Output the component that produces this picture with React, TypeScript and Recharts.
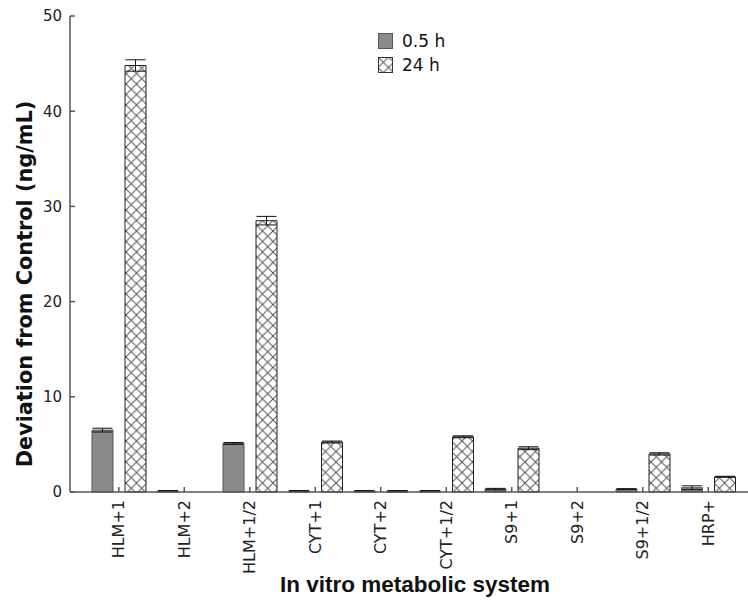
import { BarChart, Bar, XAxis, YAxis, ErrorBar, Legend, Label } from "recharts"

const categories = ["HLM+1", "HLM+2", "HLM+1/2", "CYT+1", "CYT+2", "CYT+1/2", "S9+1", "S9+2", "S9+1/2", "HRP+"]
const halfHour = [6.5, 0.1, 5.1, 0.1, 0.1, 0.1, 0.3, 0, 0.3, 0.45]
const halfHourErr = [0.2, 0.05, 0.1, 0.05, 0.05, 0.05, 0.08, 0, 0.05, 0.2]
const day = [44.8, 0, 28.5, 5.25, 0.1, 5.8, 4.6, 0, 4.0, 1.6]
const dayErr = [0.6, 0, 0.45, 0.1, 0.05, 0.1, 0.15, 0, 0.12, 0.05]
const yTicks = [0, 10, 20, 30, 40, 50]

const data = categories.map((name, i) => ({
  name,
  half: halfHour[i],
  halfErr: halfHour[i] > 0 ? halfHourErr[i] : null,
  day: day[i],
  dayErr: day[i] > 0 ? dayErr[i] : null,
}))

const AXIS = "#555"

const RotatedTick = ({ x, y, payload }: any) => (
  <g transform={`translate(${x},${y})`}>
    <text
      transform="rotate(-90)"
      textAnchor="end"
      dy="0.35em"
      fontFamily="DejaVu Sans"
      fontSize={16}
      fill="#222"
    >
      {payload.value}
    </text>
  </g>
)

const LegendBox = () => (
  <div style={{ fontFamily: "DejaVu Sans", fontSize: 17, color: "#111", lineHeight: "24px" }}>
    {[
      { label: "0.5 h", fill: "#8a8a8a", stroke: "#555" },
      { label: "24 h", fill: "url(#cross)", stroke: "#333" },
    ].map((item) => (
      <div key={item.label} style={{ display: "flex", alignItems: "center" }}>
        <svg width={16} height={17} style={{ marginRight: 8 }}>
          <rect x={0.5} y={0.5} width={14} height={15} fill={item.fill} stroke={item.stroke} />
        </svg>
        <span>{item.label}</span>
      </div>
    ))}
  </div>
)

export default function App() {
  return (
    <div style={{ position: "absolute", left: 0, top: 0, background: "#fff" }}>
      <svg width={0} height={0} style={{ position: "absolute" }}>
        <defs>
          <pattern id="cross" patternUnits="userSpaceOnUse" width={10.5} height={10.5}>
            <rect width={10.5} height={10.5} fill="#fff" />
            <path d="M0,0 L10.5,10.5 M10.5,0 L0,10.5" stroke="#555" strokeWidth={1} />
          </pattern>
        </defs>
      </svg>
      <BarChart
        width={748}
        height={601}
        data={data}
        margin={{ top: 16, right: 0, left: 0, bottom: 0 }}
        barSize={21}
        barGap={12}
      >
        <XAxis
          dataKey="name"
          height={109}
          padding={{ left: 16, right: 7 }}
          tick={<RotatedTick />}
          tickSize={-5}
          tickMargin={13}
          interval={0}
          stroke={AXIS}
          strokeWidth={1.5}
        >
          <Label
            content={({ viewBox }: any) => (
              <text
                x={viewBox.x + viewBox.width / 2 + 6}
                y={592}
                textAnchor="middle"
                fontFamily="Liberation Sans"
                fontWeight="bold"
                fontSize={22.5}
                fill="#111"
              >
                In vitro metabolic system
              </text>
            )}
          />
        </XAxis>
        <XAxis
          xAxisId="top"
          dataKey="name"
          orientation="top"
          height={0}
          padding={{ left: 16, right: 7 }}
          tick={() => <g />}
          tickSize={-5}
          interval={0}
          stroke={AXIS}
          strokeWidth={1.5}
        />
        <YAxis
          width={70}
          domain={[0, 50]}
          ticks={yTicks}
          tickSize={-5}
          tickMargin={13}
          stroke={AXIS}
          strokeWidth={1.5}
          tick={{ fontFamily: "DejaVu Sans", fontSize: 15, fill: "#222" }}
        >
          <Label
            content={({ viewBox }: any) => (
              <text
                transform={`translate(32,${viewBox.y + viewBox.height / 2 + 30}) rotate(-90)`}
                textAnchor="middle"
                fontFamily="DejaVu Sans"
                fontWeight="bold"
                fontSize={20.8}
                fill="#111"
              >
                Deviation from Control (ng/mL)
              </text>
            )}
          />
        </YAxis>
        <Legend
          layout="vertical"
          align="center"
          verticalAlign="middle"
          wrapperStyle={{ top: 29, left: 378, width: "auto" }}
          content={<LegendBox />}
        />
        <Bar dataKey="half" name="0.5 h" fill="#8a8a8a" stroke="#555" strokeWidth={1} isAnimationActive={false}>
          <ErrorBar dataKey="halfErr" width={10} stroke="#111" strokeWidth={1} />
        </Bar>
        <Bar dataKey="day" name="24 h" fill="url(#cross)" stroke="#222" strokeWidth={1} isAnimationActive={false}>
          <ErrorBar dataKey="dayErr" width={10} stroke="#111" strokeWidth={1} />
        </Bar>
      </BarChart>
    </div>
  )
}
